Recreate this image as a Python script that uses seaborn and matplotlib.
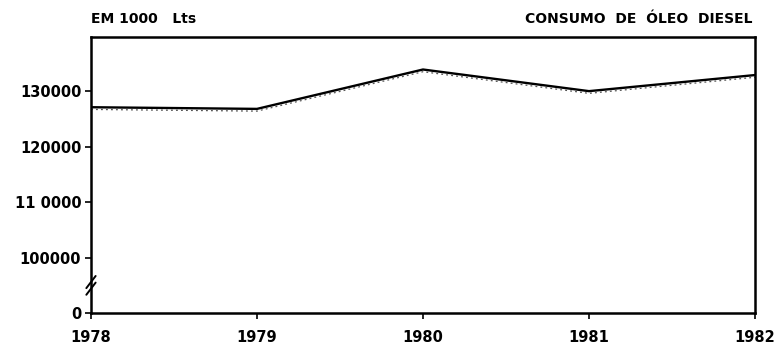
import numpy as np
import pandas as pd
import matplotlib
matplotlib.use("Agg")
import matplotlib.pyplot as plt
import seaborn as sns

# Consumo anual de óleo diesel (em 1000 litros)
anos = [1978, 1979, 1980, 1981, 1982]
consumo = [127100, 126800, 133900, 130000, 132900]
consumo_aux = [126700, 126400, 133500, 129600, 132500]

ytick_vals = [0, 100000, 110000, 120000, 130000]
ytick_labels = ["0", "100000", "11 0000", "120000", "130000"]

sns.set_theme(style="white")
plt.rcParams["font.family"] = ["DejaVu Sans"]

df = pd.DataFrame({"ano": anos, "consumo": consumo, "aux": consumo_aux})

fig = plt.figure(figsize=(7.75, 3.47), dpi=100)
ax = fig.add_axes([0.1174, 0.098, 0.8568, 0.796])


# broken axis: 0..100000 compressed into one 10000 step
def fwd(v):
    v = np.asarray(v, dtype=float)
    return np.where(v >= 100000, v - 90000, v / 10.0)


def inv(u):
    u = np.asarray(u, dtype=float)
    return np.where(u >= 10000, u + 90000, u * 10.0)


ax.set_yscale("function", functions=(fwd, inv))

sns.lineplot(data=df, x="ano", y="aux", ax=ax, color="#555555",
             linewidth=0.9, linestyle=(0, (1.5, 2.5)))
sns.lineplot(data=df, x="ano", y="consumo", ax=ax, color="black",
             linewidth=1.7)

ax.set_xlim(1978, 1982)
ax.set_ylim(0, 139800)
ax.set_xticks(anos)
ax.set_xticklabels([str(a) for a in anos])
ax.set_yticks(ytick_vals)
ax.set_yticklabels(ytick_labels)
ax.set_xlabel("")
ax.set_ylabel("")

for s in ax.spines.values():
    s.set_color("black")
    s.set_linewidth(1.8)

ax.tick_params(axis="both", which="major", direction="out", length=4,
               width=1.2, color="black", labelsize=10.5, labelcolor="black",
               left=True, bottom=True)
ax.tick_params(axis="x", pad=8)
ax.tick_params(axis="y", pad=3)
for lbl in ax.get_xticklabels() + ax.get_yticklabels():
    lbl.set_fontweight("bold")

# axis break marks
for dy in (-0.012, 0.012):
    ax.plot([-0.007, 0.007], [0.1 + dy - 0.022, 0.1 + dy + 0.022],
            transform=ax.transAxes, color="black", linewidth=1.4,
            clip_on=False)

fig.text(0.117, 0.925, "EM 1000   Lts", fontsize=10, fontweight="bold",
         color="black", ha="left", va="bottom")
fig.text(0.971, 0.925, "CONSUMO  DE  ÓLEO  DIESEL", fontsize=10,
         fontweight="bold", color="black", ha="right", va="bottom")

fig.savefig("out.png", dpi=100)
